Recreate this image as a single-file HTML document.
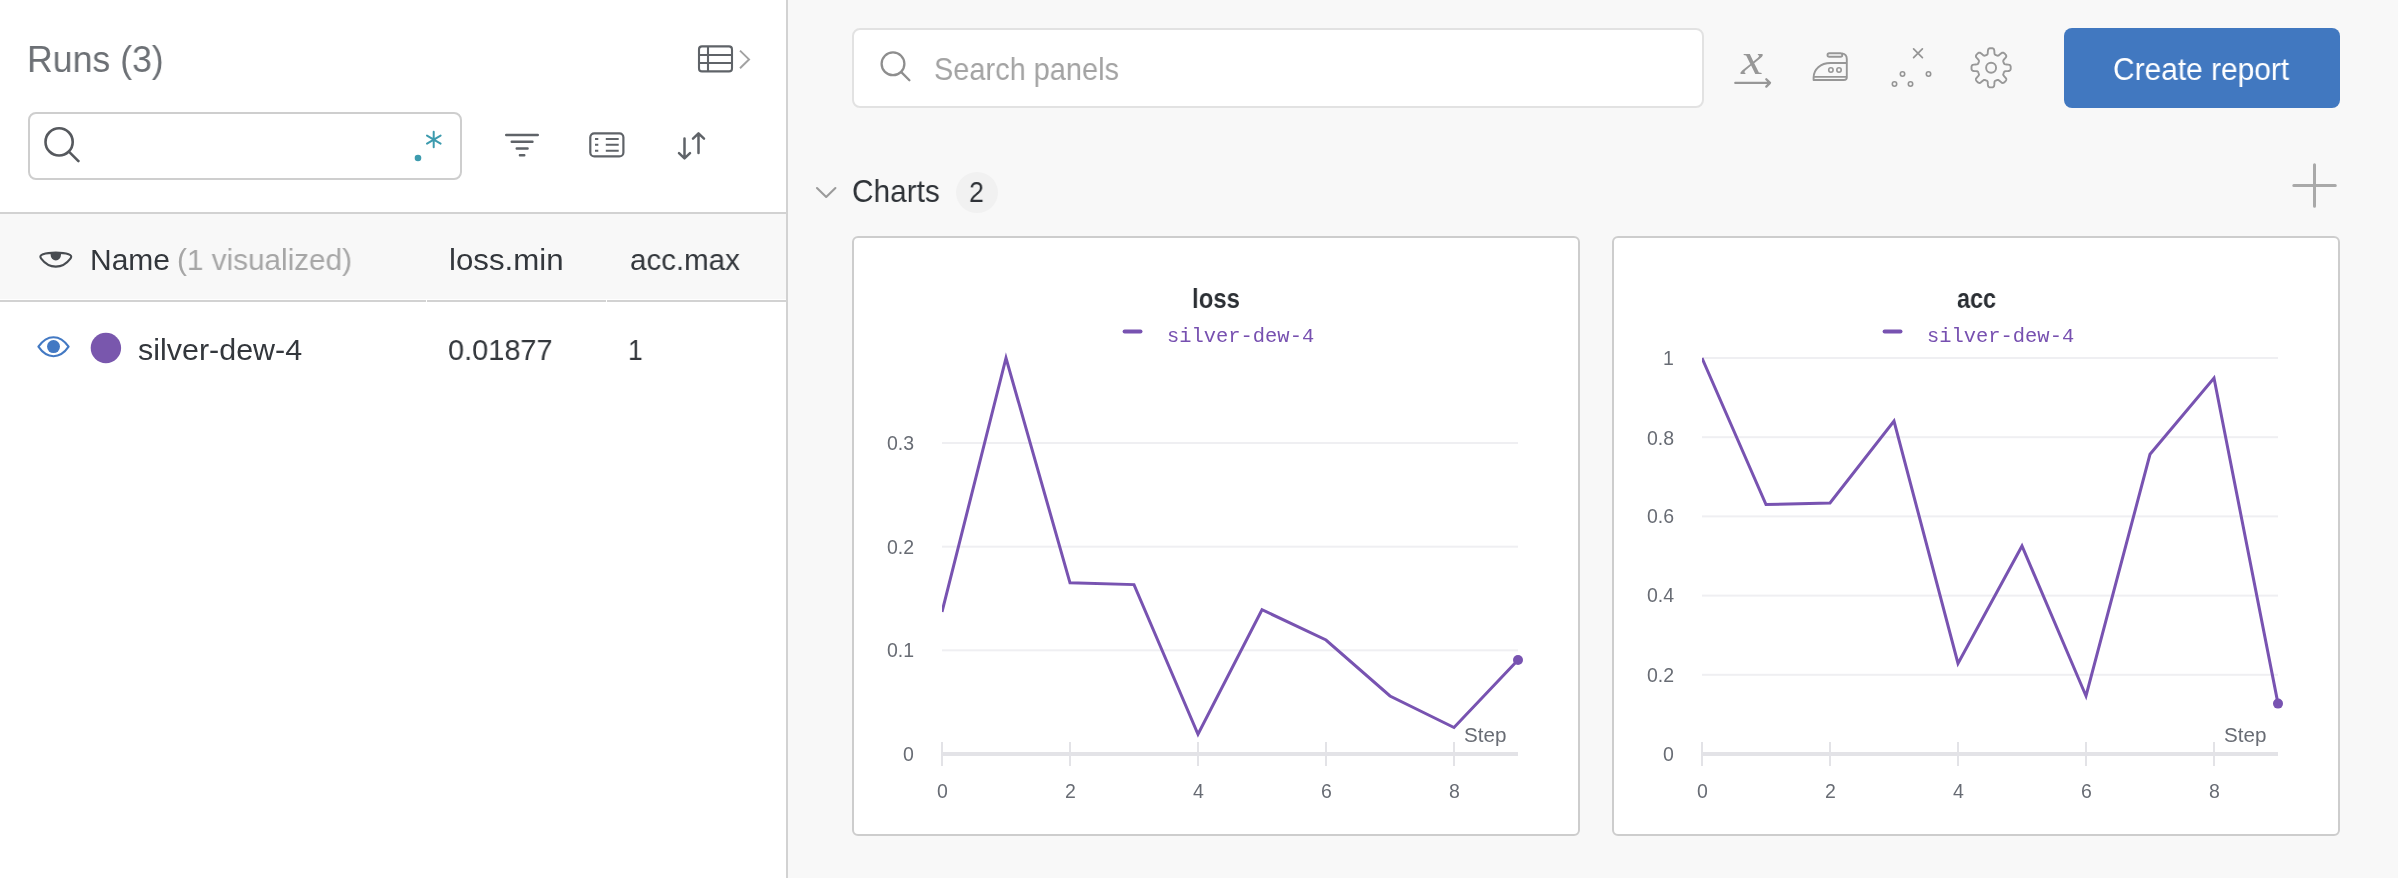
<!DOCTYPE html>
<html lang="en"><head><meta charset="utf-8"><title>Runs - Workspace</title>
<style>
html,body{margin:0;padding:0}
body{width:2398px;height:878px;overflow:hidden;position:relative;background:#f8f8f8;font-family:'Liberation Sans',sans-serif}
.t{position:absolute;white-space:nowrap;transform-origin:0 0;z-index:5;will-change:transform}
.sans{font-family:'Liberation Sans',sans-serif}
.mono{font-family:'Liberation Mono',monospace}
.serif{font-family:'Liberation Serif',serif}
.abs{position:absolute;box-sizing:border-box}
#left{left:0;top:0;width:786px;height:878px;background:#fff}
#divider{left:786px;top:0;width:2px;height:878px;background:#d2d2d2}
#runsearch{left:28px;top:112px;width:434px;height:68px;border:2px solid #cecece;border-radius:8px;background:#fff}
#thead{left:0;top:212px;width:786px;height:90px;border-top:2px solid #d2d2d2;border-bottom:2px solid #d2d2d2;background:#f8f8f8}
#panelsearch{left:852px;top:28px;width:852px;height:80px;border:2px solid #e2e2e2;border-radius:8px;background:#fff}
#btn{left:2064px;top:28px;width:276px;height:80px;border-radius:8px;background:#4178c0}
.panel{top:236px;width:728px;height:600px;border:2px solid #cdcdcd;border-radius:6px;background:#fff}
#p1{left:852px}
#p2{left:1612px}
#badge{left:956px;top:171.5px;width:42px;height:41px;border-radius:50%;background:#f1f1f1}
.gap{position:absolute;background:#fff}
#ov{position:absolute;left:0;top:0;z-index:3}
</style></head><body>
<div id="left" class="abs"></div>
<div id="divider" class="abs"></div>
<div id="runsearch" class="abs"></div>
<div id="thead" class="abs"></div>
<div class="gap" style="left:0;top:299px;width:786px;height:1px"></div>
<div class="gap" style="left:426px;top:299px;width:1px;height:3px"></div>
<div class="gap" style="left:606px;top:299px;width:1px;height:3px"></div>
<div id="panelsearch" class="abs"></div>
<div id="btn" class="abs"></div>
<div id="badge" class="abs"></div>
<div id="p1" class="abs panel"></div>
<div id="p2" class="abs panel"></div>
<svg id="ov" width="2398" height="878" viewBox="0 0 2398 878">
<!-- table icon -->
<g fill="none" stroke="#5f6368" stroke-width="2.1">
 <rect x="699" y="46.4" width="33" height="25" rx="3"/>
 <path d="M708 46.4V71.4M699 55H732M699 63H732"/>
</g>
<path d="M740 50.6L749 59.4L740 68.2" fill="none" stroke="#a2a2a2" stroke-width="2"/>
<!-- left search magnifier -->
<g fill="none" stroke="#56595e" stroke-width="2.6" stroke-linecap="round">
 <circle cx="59.1" cy="141.9" r="13.6"/>
 <path d="M69.4 152.2L78.4 161.2"/>
</g>
<!-- regex icon -->
<circle cx="418" cy="158" r="3.3" fill="#3d9bae"/>
<path d="M433.7 131.8V147.2M427 135.6L440.6 143.6M427 143.6L440.6 135.6" stroke="#3d9bae" stroke-width="2" stroke-linecap="round" fill="none"/>
<!-- filter -->
<g stroke="#5f6368" stroke-width="2.4" stroke-linecap="round" fill="none">
 <path d="M506.2 135H537.8M511.7 141.7H532.5M516.7 148.5H527.6M519.9 155.3H524.3"/>
</g>
<!-- list icon -->
<g fill="none" stroke="#5f6368">
 <rect x="590.3" y="133.3" width="33.1" height="23.1" rx="4" stroke-width="2.2"/>
 <path d="M595 139H598.3M595 144.8H598.3M595 150.7H598.3M605.8 139H618.7M605.8 144.8H618.7M605.8 150.7H618.7" stroke-width="1.9"/>
</g>
<!-- sort icon -->
<g fill="none" stroke="#5f6368" stroke-width="2.5" stroke-linecap="round" stroke-linejoin="round">
 <path d="M684.5 138.4V157.6M679 153.1L684.5 158.4L690 153.1"/>
 <path d="M698.5 153V134.2M693 138.6L698.5 133.3L704 138.6"/>
</g>
<!-- header eye (half closed) -->
<g>
 <path d="M41.2 258.6C39.6 256.4 40.6 255 43 254.2C46.5 253 51 252.6 55.8 252.6C60.6 252.6 65.2 253 68.6 254.2C71 255 72 256.4 70.4 258.6C66.5 263.8 61.5 266.6 55.8 266.6C50.1 266.6 45.1 263.8 41.2 258.6Z" fill="none" stroke="#484c51" stroke-width="2.1" stroke-linejoin="round"/>
 <path d="M50.6 253L50.6 254.8A5.2 5.7 0 0 0 61 254.8L61 253Z" fill="#484c51"/>
</g>
<!-- row eye (blue) -->
<g>
 <path d="M38.4 346.7C43 340 48 337.2 53.5 337.2C59 337.2 64 340 68.6 346.7C64 353.4 59 356.2 53.5 356.2C48 356.2 43 353.4 38.4 346.7Z" fill="none" stroke="#4379c3" stroke-width="2.1" stroke-linejoin="round"/>
 <circle cx="53.5" cy="346.6" r="6.5" fill="#4379c3"/>
</g>
<circle cx="105.9" cy="348" r="15.2" fill="#7957ad"/>
<!-- panel search magnifier -->
<g fill="none" stroke="#8e8e8e" stroke-width="2.3" stroke-linecap="round">
 <circle cx="893" cy="63.8" r="11.4"/>
 <path d="M901.3 72.1L909.4 80.2"/>
</g>
<!-- x-axis icon -->
<g fill="none" stroke="#979797" stroke-width="2.3" stroke-linecap="round" stroke-linejoin="round">
 <path d="M1735.3 82.9H1770M1766.3 79.3L1770 82.9L1766.3 86.6"/>
</g>
<!-- iron icon -->
<g fill="none" stroke="#979797" stroke-width="1.9" stroke-linejoin="round">
 <rect x="1827.5" y="53.2" width="14.8" height="3.6" rx="1.8"/>
 <path d="M1842 53.4C1844.9 53.8 1846.8 56 1846.8 59V77.5C1846.8 79.2 1845.3 80 1843.8 80H1813.6V77.5C1813.6 69.5 1820.5 63 1830.5 63H1846.8"/>
 <path d="M1813.6 76.9H1846.8"/>
 <circle cx="1830.9" cy="70" r="2.2" stroke-width="1.6"/>
 <circle cx="1839" cy="70" r="2.2" stroke-width="1.6"/>
</g>
<!-- outlier icon -->
<g fill="none" stroke="#959595" stroke-width="1.7" stroke-linecap="round">
 <path d="M1913.6 48.9L1922.4 57.7M1922.4 48.9L1913.6 57.7"/>
 <circle cx="1902.5" cy="74" r="2.2" stroke-width="1.6"/>
 <circle cx="1928.5" cy="74" r="2.2" stroke-width="1.6"/>
 <circle cx="1894.5" cy="84" r="2.2" stroke-width="1.6"/>
 <circle cx="1910.5" cy="84" r="2.2" stroke-width="1.6"/>
</g>
<!-- gear -->
<path d="M1991.1 48.2L1991.6 48.2L1992.1 48.2L1992.6 48.3L1993.1 48.5L1993.6 48.8L1994.0 49.4L1994.3 50.7L1994.4 52.3L1994.5 53.6L1994.7 54.3L1995.0 54.6L1995.3 54.8L1995.6 55.0L1996.0 55.1L1996.3 55.2L1996.6 55.4L1997.0 55.5L1997.3 55.6L1997.7 55.7L1998.1 55.7L1998.7 55.4L1999.7 54.6L2001.0 53.5L2002.0 52.7L2002.8 52.6L2003.3 52.7L2003.8 52.9L2004.2 53.2L2004.6 53.6L2005.0 53.9L2005.3 54.3L2005.7 54.7L2006.0 55.1L2006.2 55.6L2006.3 56.1L2006.2 56.9L2005.4 57.9L2004.3 59.2L2003.5 60.2L2003.2 60.8L2003.2 61.2L2003.3 61.6L2003.4 61.9L2003.5 62.3L2003.7 62.6L2003.8 62.9L2003.9 63.3L2004.1 63.6L2004.3 63.9L2004.6 64.2L2005.3 64.4L2006.6 64.5L2008.2 64.6L2009.5 64.9L2010.1 65.3L2010.4 65.8L2010.6 66.3L2010.7 66.8L2010.7 67.3L2010.7 67.8L2010.7 68.3L2010.7 68.8L2010.6 69.3L2010.4 69.8L2010.1 70.3L2009.5 70.7L2008.2 71.0L2006.6 71.1L2005.3 71.2L2004.6 71.4L2004.3 71.7L2004.1 72.0L2003.9 72.3L2003.8 72.7L2003.7 73.0L2003.5 73.3L2003.4 73.7L2003.3 74.0L2003.2 74.4L2003.2 74.8L2003.5 75.4L2004.3 76.4L2005.4 77.7L2006.2 78.7L2006.3 79.5L2006.2 80.0L2006.0 80.5L2005.7 80.9L2005.3 81.3L2005.0 81.7L2004.6 82.0L2004.2 82.4L2003.8 82.7L2003.3 82.9L2002.8 83.0L2002.0 82.9L2001.0 82.1L1999.7 81.0L1998.7 80.2L1998.1 79.9L1997.7 79.9L1997.3 80.0L1997.0 80.1L1996.6 80.2L1996.3 80.4L1996.0 80.5L1995.6 80.6L1995.3 80.8L1995.0 81.0L1994.7 81.3L1994.5 82.0L1994.4 83.3L1994.3 84.9L1994.0 86.2L1993.6 86.8L1993.1 87.1L1992.6 87.3L1992.1 87.4L1991.6 87.4L1991.1 87.4L1990.6 87.4L1990.1 87.4L1989.6 87.3L1989.1 87.1L1988.6 86.8L1988.2 86.2L1987.9 84.9L1987.8 83.3L1987.7 82.0L1987.5 81.3L1987.2 81.0L1986.9 80.8L1986.6 80.6L1986.2 80.5L1985.9 80.4L1985.6 80.2L1985.2 80.1L1984.9 80.0L1984.5 79.9L1984.1 79.9L1983.5 80.2L1982.5 81.0L1981.2 82.1L1980.2 82.9L1979.4 83.0L1978.9 82.9L1978.4 82.7L1978.0 82.4L1977.6 82.0L1977.2 81.7L1976.9 81.3L1976.5 80.9L1976.2 80.5L1976.0 80.0L1975.9 79.5L1976.0 78.7L1976.8 77.7L1977.9 76.4L1978.7 75.4L1979.0 74.8L1979.0 74.4L1978.9 74.0L1978.8 73.7L1978.7 73.3L1978.5 73.0L1978.4 72.7L1978.3 72.3L1978.1 72.0L1977.9 71.7L1977.6 71.4L1976.9 71.2L1975.6 71.1L1974.0 71.0L1972.7 70.7L1972.1 70.3L1971.8 69.8L1971.6 69.3L1971.5 68.8L1971.5 68.3L1971.5 67.8L1971.5 67.3L1971.5 66.8L1971.6 66.3L1971.8 65.8L1972.1 65.3L1972.7 64.9L1974.0 64.6L1975.6 64.5L1976.9 64.4L1977.6 64.2L1977.9 63.9L1978.1 63.6L1978.3 63.3L1978.4 62.9L1978.5 62.6L1978.7 62.3L1978.8 61.9L1978.9 61.6L1979.0 61.2L1979.0 60.8L1978.7 60.2L1977.9 59.2L1976.8 57.9L1976.0 56.9L1975.9 56.1L1976.0 55.6L1976.2 55.1L1976.5 54.7L1976.9 54.3L1977.2 53.9L1977.6 53.6L1978.0 53.2L1978.4 52.9L1978.9 52.7L1979.4 52.6L1980.2 52.7L1981.2 53.5L1982.5 54.6L1983.5 55.4L1984.1 55.7L1984.5 55.7L1984.9 55.6L1985.2 55.5L1985.6 55.4L1985.9 55.2L1986.2 55.1L1986.6 55.0L1986.9 54.8L1987.2 54.6L1987.5 54.3L1987.7 53.6L1987.8 52.3L1987.9 50.7L1988.2 49.4L1988.6 48.8L1989.1 48.5L1989.6 48.3L1990.1 48.2L1990.6 48.2Z" fill="none" stroke="#989898" stroke-width="1.9" stroke-linejoin="round"/>
<circle cx="1991.1" cy="67.8" r="5" fill="none" stroke="#989898" stroke-width="1.9"/>
<!-- chevron down -->
<path d="M817 188L826.2 197L835.4 188" fill="none" stroke="#9b9b9b" stroke-width="2.1" stroke-linecap="round" stroke-linejoin="round"/>
<!-- plus -->
<path d="M2314.5 164.7V206.2M2293.8 185.5H2335.3" stroke="#a9a9a9" stroke-width="3" stroke-linecap="round"/>
<clipPath id="clip0"><rect x="942" y="300" width="586" height="460"/></clipPath>
<rect x="942" y="442.0" width="576" height="2" fill="#efeff2"/>
<rect x="942" y="545.7" width="576" height="2" fill="#efeff2"/>
<rect x="942" y="649.3" width="576" height="2" fill="#efeff2"/>
<rect x="942" y="752" width="576" height="4" fill="#e3e3e7"/>
<rect x="941" y="742" width="2" height="24" fill="#e3e3e7"/>
<rect x="1069" y="742" width="2" height="24" fill="#e3e3e7"/>
<rect x="1197" y="742" width="2" height="24" fill="#e3e3e7"/>
<rect x="1325" y="742" width="2" height="24" fill="#e3e3e7"/>
<rect x="1453" y="742" width="2" height="24" fill="#e3e3e7"/>
<path d="M942 612 L1006 358 L1070 582.8 L1134 584.6 L1198 734.3 L1262 609.7 L1326 640 L1390 696 L1454 727.5 L1518 660" fill="none" stroke="#7853b1" stroke-width="3" stroke-linejoin="miter" stroke-miterlimit="4" clip-path="url(#clip0)"/>
<circle cx="1518" cy="660" r="5" fill="#7853b1"/>
<path d="M1124.6 331.5H1140.5" stroke="#7853b1" stroke-width="4" stroke-linecap="round"/>
<clipPath id="clip760"><rect x="1702" y="300" width="586" height="460"/></clipPath>
<rect x="1702" y="357.0" width="576" height="2" fill="#efeff2"/>
<rect x="1702" y="436.2" width="576" height="2" fill="#efeff2"/>
<rect x="1702" y="515.4" width="576" height="2" fill="#efeff2"/>
<rect x="1702" y="594.6" width="576" height="2" fill="#efeff2"/>
<rect x="1702" y="673.8" width="576" height="2" fill="#efeff2"/>
<rect x="1702" y="752" width="576" height="4" fill="#e3e3e7"/>
<rect x="1701" y="742" width="2" height="24" fill="#e3e3e7"/>
<rect x="1829" y="742" width="2" height="24" fill="#e3e3e7"/>
<rect x="1957" y="742" width="2" height="24" fill="#e3e3e7"/>
<rect x="2085" y="742" width="2" height="24" fill="#e3e3e7"/>
<rect x="2213" y="742" width="2" height="24" fill="#e3e3e7"/>
<path d="M1702 358 L1766 504.5 L1830 503 L1894 421 L1958 663.5 L2022 546 L2086 696 L2150 454.3 L2214 378 L2278 703.6" fill="none" stroke="#7853b1" stroke-width="3" stroke-linejoin="miter" stroke-miterlimit="4" clip-path="url(#clip760)"/>
<circle cx="2278" cy="703.6" r="5" fill="#7853b1"/>
<path d="M1884.6 331.5H1900.5" stroke="#7853b1" stroke-width="4" stroke-linecap="round"/>
</svg>
<span class="t sans" style="left:26.81px;top:40.90px;font-size:37.5px;line-height:37.5px;color:#6c7075;transform:scaleX(0.9509);">Runs (3)</span>
<span class="t sans" style="left:89.66px;top:245.00px;font-size:30px;line-height:30px;color:#33373c;transform:scaleX(0.9965);">Name</span>
<span class="t sans" style="left:177.11px;top:245.00px;font-size:30px;line-height:30px;color:#a6a6a6;transform:scaleX(0.9904);">(1 visualized)</span>
<span class="t sans" style="left:449.35px;top:245.00px;font-size:30px;line-height:30px;color:#33373c;transform:scaleX(1.0417);">loss.min</span>
<span class="t sans" style="left:630.28px;top:245.00px;font-size:30px;line-height:30px;color:#33373c;transform:scaleX(0.9832);">acc.max</span>
<span class="t sans" style="left:137.62px;top:334.90px;font-size:30px;line-height:30px;color:#33373c;transform:scaleX(1.0150);">silver-dew-4</span>
<span class="t sans" style="left:448.10px;top:335.00px;font-size:30px;line-height:30px;color:#33373c;transform:scaleX(0.9644);">0.01877</span>
<span class="t sans" style="left:628.34px;top:335.00px;font-size:30px;line-height:30px;color:#33373c;transform:scaleX(0.8828);">1</span>
<span class="t sans" style="left:934.10px;top:53.90px;font-size:30.5px;line-height:30.5px;color:#a3a3a3;transform:scaleX(0.9488);">Search panels</span>
<span class="t sans" style="left:2113.20px;top:54.30px;font-size:31px;line-height:31px;color:#ffffff;transform:scaleX(0.9642);">Create report</span>
<span class="t sans" style="left:852.10px;top:176.20px;font-size:31.5px;line-height:31.5px;color:#2e3237;transform:scaleX(0.9467);">Charts</span>
<span class="t sans" style="left:969.25px;top:177.00px;font-size:30px;line-height:30px;color:#2e3237;transform:scaleX(0.8889);">2</span>
<span class="t serif" style="left:1740.98px;top:37.60px;font-size:44px;line-height:44px;color:#979797;font-style:italic;transform:scaleX(1.1335);">x</span>
<span class="t sans" style="left:1192.30px;top:285.00px;font-size:27.5px;line-height:27.5px;color:#2b2f34;font-weight:700;transform:scaleX(0.8698);">loss</span>
<span class="t mono" style="left:1166.57px;top:326.80px;font-size:20px;line-height:20px;color:#7750b0;transform:scaleX(1.0218);">silver-dew-4</span>
<span class="t sans" style="left:1463.69px;top:725.40px;font-size:20.5px;line-height:20.5px;color:#686c74;transform:scaleX(1.0057);">Step</span>
<span class="t sans" style="left:936.60px;top:782.00px;font-size:19.5px;line-height:19.5px;color:#686c74;">0</span>
<span class="t sans" style="left:1064.60px;top:782.00px;font-size:19.5px;line-height:19.5px;color:#686c74;">2</span>
<span class="t sans" style="left:1192.65px;top:782.00px;font-size:19.5px;line-height:19.5px;color:#686c74;">4</span>
<span class="t sans" style="left:1320.55px;top:782.00px;font-size:19.5px;line-height:19.5px;color:#686c74;">6</span>
<span class="t sans" style="left:1448.60px;top:782.00px;font-size:19.5px;line-height:19.5px;color:#686c74;">8</span>
<span class="t sans" style="left:1956.73px;top:285.00px;font-size:27.5px;line-height:27.5px;color:#2b2f34;font-weight:700;transform:scaleX(0.8511);">acc</span>
<span class="t mono" style="left:1926.57px;top:326.80px;font-size:20px;line-height:20px;color:#7750b0;transform:scaleX(1.0218);">silver-dew-4</span>
<span class="t sans" style="left:2223.69px;top:725.40px;font-size:20.5px;line-height:20.5px;color:#686c74;transform:scaleX(1.0057);">Step</span>
<span class="t sans" style="left:1696.60px;top:782.00px;font-size:19.5px;line-height:19.5px;color:#686c74;">0</span>
<span class="t sans" style="left:1824.60px;top:782.00px;font-size:19.5px;line-height:19.5px;color:#686c74;">2</span>
<span class="t sans" style="left:1952.65px;top:782.00px;font-size:19.5px;line-height:19.5px;color:#686c74;">4</span>
<span class="t sans" style="left:2080.55px;top:782.00px;font-size:19.5px;line-height:19.5px;color:#686c74;">6</span>
<span class="t sans" style="left:2208.60px;top:782.00px;font-size:19.5px;line-height:19.5px;color:#686c74;">8</span>
<span class="t sans" style="left:887.04px;top:433.90px;font-size:19.5px;line-height:19.5px;color:#686c74;">0.3</span>
<span class="t sans" style="left:887.14px;top:537.50px;font-size:19.5px;line-height:19.5px;color:#686c74;">0.2</span>
<span class="t sans" style="left:887.14px;top:641.20px;font-size:19.5px;line-height:19.5px;color:#686c74;">0.1</span>
<span class="t sans" style="left:903.20px;top:745.20px;font-size:19.5px;line-height:19.5px;color:#686c74;">0</span>
<span class="t sans" style="left:1663.40px;top:349.00px;font-size:19.5px;line-height:19.5px;color:#686c74;">1</span>
<span class="t sans" style="left:1647.04px;top:428.50px;font-size:19.5px;line-height:19.5px;color:#686c74;">0.8</span>
<span class="t sans" style="left:1647.04px;top:507.30px;font-size:19.5px;line-height:19.5px;color:#686c74;">0.6</span>
<span class="t sans" style="left:1646.74px;top:586.40px;font-size:19.5px;line-height:19.5px;color:#686c74;">0.4</span>
<span class="t sans" style="left:1647.14px;top:665.70px;font-size:19.5px;line-height:19.5px;color:#686c74;">0.2</span>
<span class="t sans" style="left:1663.20px;top:745.20px;font-size:19.5px;line-height:19.5px;color:#686c74;">0</span>
</body></html>
